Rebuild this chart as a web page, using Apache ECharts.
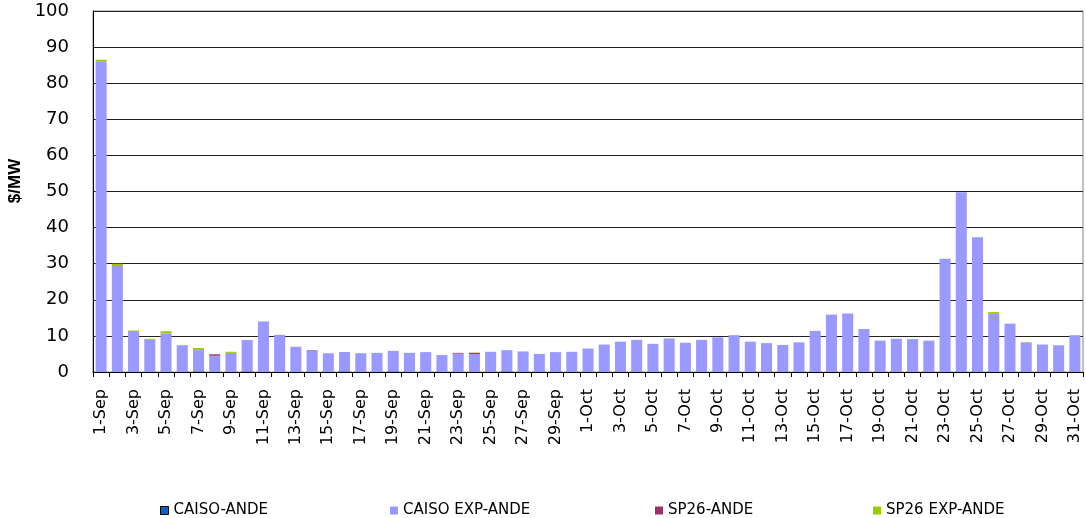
<!DOCTYPE html>
<html>
<head>
<meta charset="utf-8">
<script src="https://cdn.jsdelivr.net/npm/echarts@6/dist/echarts.min.js"></script>
<style>html,body{margin:0;padding:0;background:#fff}#c{width:1086px;height:518px}</style>
</head>
<body>
<div id="c"></div>
<script>
const categories = [
 '1-Sep','2-Sep','3-Sep','4-Sep','5-Sep','6-Sep','7-Sep','8-Sep','9-Sep','10-Sep',
 '11-Sep','12-Sep','13-Sep','14-Sep','15-Sep','16-Sep','17-Sep','18-Sep','19-Sep','20-Sep',
 '21-Sep','22-Sep','23-Sep','24-Sep','25-Sep','26-Sep','27-Sep','28-Sep','29-Sep','30-Sep',
 '1-Oct','2-Oct','3-Oct','4-Oct','5-Oct','6-Oct','7-Oct','8-Oct','9-Oct','10-Oct',
 '11-Oct','12-Oct','13-Oct','14-Oct','15-Oct','16-Oct','17-Oct','18-Oct','19-Oct','20-Oct',
 '21-Oct','22-Oct','23-Oct','24-Oct','25-Oct','26-Oct','27-Oct','28-Oct','29-Oct','30-Oct','31-Oct'
];
const caisoAnde = [
 0,0,0,0,0,0,0.15,0,0,0.15,
 0,0,0,0,0,0.15,0,0,0.15,0,
 0,0,0,0,0,0.15,0,0,0,0,
 0,0,0,0,0,0,0,0,0,0,
 0,0,0,0,0,0,0,0,0,0,
 0,0,0,0,0,0,0,0,0,0,0
];
const caisoExpAnde = [
 86.0,29.3,11.4,8.9,10.7,7.3,5.9,4.5,5.3,8.7,
 14.0,10.3,7.0,6.0,5.2,5.4,5.2,5.3,5.7,5.3,
 5.5,4.7,5.1,5.0,5.6,5.9,5.7,5.0,5.5,5.6,
 6.5,7.6,8.4,8.9,7.8,9.3,8.1,8.9,9.6,10.2,
 8.4,8.0,7.5,8.2,11.4,15.9,16.2,11.9,8.7,9.2,
 9.1,8.7,31.4,49.8,37.3,16.1,13.4,8.2,7.6,7.4,10.2
];
const sp26Ande = [
 0,0.2,0,0,0,0,0,0.4,0,0,
 0,0,0,0.1,0,0,0,0,0,0,
 0,0,0.2,0.3,0,0,0,0,0,0,
 0,0,0,0,0,0,0,0,0,0,
 0,0,0,0,0,0,0,0,0,0,
 0,0,0,0,0,0,0,0,0,0,0
];
const sp26ExpAnde = [
 0.5,0.5,0.1,0.3,0.6,0.2,0.6,0,0.3,0,
 0,0,0,0,0,0,0,0,0,0,
 0,0,0,0.1,0,0,0,0,0,0,
 0,0,0,0,0,0,0,0,0,0,
 0,0,0,0,0,0,0,0,0,0,
 0,0,0,0,0,0.5,0,0.1,0,0,0
];
const yTicks = [0,10,20,30,40,50,60,70,80,90,100];
const yTitle = '$/MW';

const chart = echarts.init(document.getElementById('c'), null, {renderer:'canvas'});
const font = '"DejaVu Sans", Arial, sans-serif';
function bar(name, data, color) {
  return {
    name, type:'bar', stack:'total', data,
    barWidth:'68%',
    itemStyle:{color},
    emphasis:{disabled:true}
  };
}
function leg(name, left, icon) {
  return {
    data:[{name, itemStyle: icon||undefined}], left, top:503, icon:'rect', itemWidth:8, itemHeight:8, itemGap:4,
    textStyle:{fontFamily:font, fontSize:15, color:'#000'}, selectedMode:false, padding:0
  };
}
chart.setOption({
  animation:false,
  backgroundColor:'#fff',
  grid:{left:93, right:3, top:11, bottom:146, show:true, borderColor:'#888', borderWidth:1,
        containLabel:false, outerBoundsMode:'none'},
  legend:[
    leg('CAISO-ANDE', 160, {color:'#0066CC', borderColor:'#000', borderWidth:1}),
    leg('CAISO EXP-ANDE', 390),
    leg('SP26-ANDE', 655),
    leg('SP26 EXP-ANDE', 873)
  ],
  graphic:[{
    type:'text', x:15, y:181, rotation:Math.PI/2,
    style:{text:yTitle, fill:'#000', font:'bold 17px Arial, "Liberation Sans", sans-serif',
           textAlign:'center', textVerticalAlign:'middle'}
  }],
  xAxis:{
    type:'category', data:categories, boundaryGap:true,
    axisLine:{lineStyle:{color:'#000', width:1}},
    axisTick:{show:true, interval:0, length:5, lineStyle:{color:'#000'}},
    axisLabel:{interval:1, rotate:90, margin:17, fontFamily:font, fontSize:16, color:'#000'}
  },
  yAxis:{
    type:'value', min:0, max:100, interval:10,
    axisLine:{show:true, lineStyle:{color:'#000'}},
    axisTick:{show:false},
    axisLabel:{fontFamily:font, fontSize:18, color:'#000', margin:24,
      formatter:v => yTicks.includes(v) ? String(v) : ''},
    splitLine:{show:true, lineStyle:{color:'#222', width:1}}
  },
  series:[
    bar('CAISO-ANDE', caisoAnde, '#003399'),
    bar('CAISO EXP-ANDE', caisoExpAnde, '#9999FF'),
    bar('SP26-ANDE', sp26Ande, '#993366'),
    bar('SP26 EXP-ANDE', sp26ExpAnde, '#99CC00')
  ]
});
</script>
</body>
</html>
